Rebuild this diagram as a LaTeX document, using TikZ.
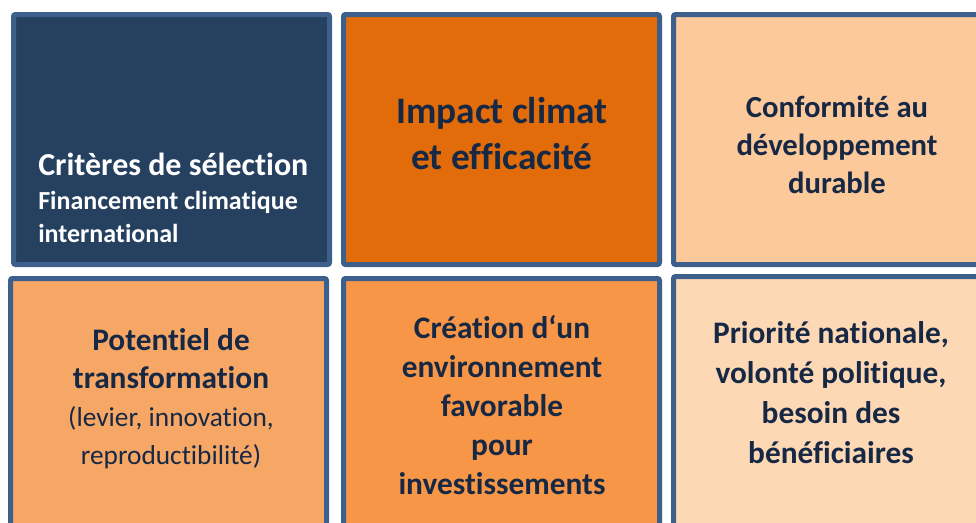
\documentclass[tikz,border=0pt]{standalone}
\usepackage{fontspec}
\setmainfont{Carlito}[Ligatures={NoCommon,NoRare,NoContextual}, Contextuals=NoAlternate]
\definecolor{frameblue}{RGB}{60,95,140}
\definecolor{textnavy}{RGB}{22,40,68}
\definecolor{navyfill}{RGB}{38,64,96}
\definecolor{orangefill}{RGB}{227,108,10}
\definecolor{peachfill}{RGB}{252,201,154}
\definecolor{apricotfill}{RGB}{247,167,101}
\definecolor{tanfill}{RGB}{247,150,70}
\definecolor{creamfill}{RGB}{253,216,181}
\tikzset{
  critbox/.style={draw=frameblue, line width=3.75pt, rounded corners=1.5pt, anchor=north west,
    inner sep=0pt, outer sep=0pt, minimum width=237pt, minimum height=187.5pt},
  crittext/.style={text=textnavy, align=center, inner sep=0pt, anchor=north},
}
\newcommand{\subline}{\mdseries\fontsize{20.5}{24}\selectfont}
\begin{document}
\begin{tikzpicture}[x=0.75pt,y=0.75pt,yscale=-1,xscale=1]
\clip (0,0) rectangle (976,522);

%Shape: Rectangle [top row]
\node [critbox, fill=navyfill] (box1) at (13.5,14.5) {};
\node [critbox, fill=orangefill] (box2) at (343.5,14.5) {};
\node [critbox, fill=peachfill] (box3) at (673.5,14.5) {};
%Shape: Rectangle [bottom row]
\node [critbox, fill=apricotfill] (box4) at (10.5,278.5) {};
\node [critbox, fill=tanfill] (box5) at (343.5,278.5) {};
\node [critbox, fill=creamfill] (box6) at (673.5,276.5) {};

% Text Node
\node [crittext, anchor=north west, align=left, text=white, font=\bfseries\fontsize{24}{25}\selectfont] (txt1) at (38,153)
  {Critères de sélection\\
   \fontsize{19.5}{24}\selectfont Financement climatique\\ \fontsize{19.5}{24}\selectfont international};
% Text Node
\node [crittext, font=\bfseries\fontsize{28}{34.5}\selectfont] (txt2) at (502,97) {Impact climat\\ et efficacité};
% Text Node
\node [crittext, font=\bfseries\fontsize{23}{28.5}\selectfont] (txt3) at (837,96) {Conformité au\\ développement\\ durable};
% Text Node
\node [crittext, font=\bfseries\fontsize{23.5}{28.5}\selectfont] (txt4) at (171,328)
  {Potentiel de\\ transformation\\
   \subline (levier, innovation,\\ \subline reproductibilité)};
% Text Node
\node [crittext, font=\bfseries\fontsize{23.5}{29.25}\selectfont] (txt5) at (502,315)
  {Création d‘un\\ environnement\\ favorable\\ pour\\ investissements};
% Text Node
\node [crittext, font=\bfseries\fontsize{23.5}{30}\selectfont] (txt6) at (831,321)
  {Priorité nationale,\\ volonté politique,\\ besoin des\\ bénéficiaires};

\end{tikzpicture}
\end{document}
